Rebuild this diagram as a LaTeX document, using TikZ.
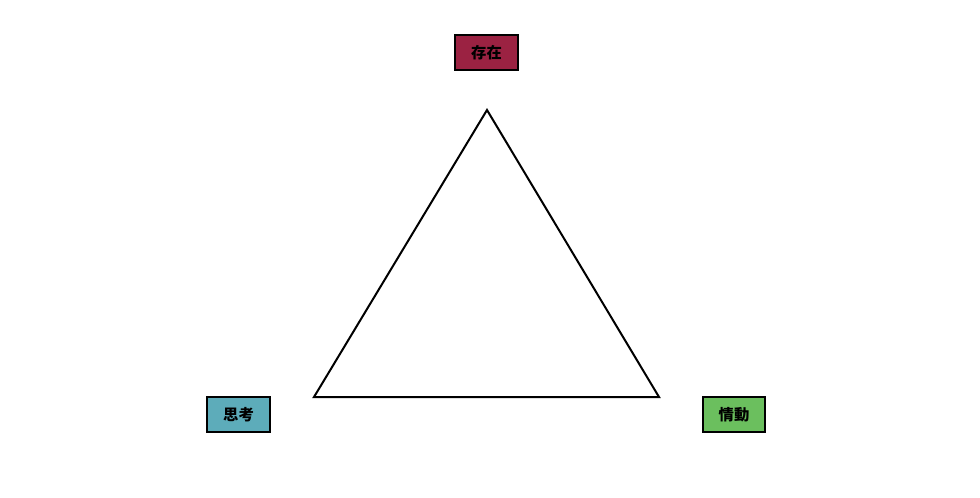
\documentclass[tikz,border=0pt]{standalone}
\usepackage{fontspec}
\usepackage{tikz}
\newfontfamily\cjk{Noto Sans CJK SC}
\definecolor{exist}{RGB}{155,34,66}
\definecolor{think}{RGB}{93,172,186}
\definecolor{feel}{RGB}{107,191,94}
\begin{document}
\begin{tikzpicture}[x=0.75pt,y=-0.75pt]\tikzstyle{every node}+=[inner sep=0pt]
	  \tikzstyle{corner}=[draw=black,line width=1.5pt,minimum width=47pt,minimum height=26pt,font=\cjk\bfseries\fontsize{11.5}{13}\selectfont]
	  \useasboundingbox (0,0) rectangle (980,498);
	  \draw (486.5,52.5) node[corner,fill=exist] (exist) {存在};
	  \draw (238.5,414.5) node[corner,fill=think] (think) {思考};
	  \draw (734,414.5) node[corner,fill=feel] (feel) {情動};
	  \coordinate (top) at (487,110);
	  \coordinate (left) at (314,397);
	  \coordinate (right) at (659,397);
	  \draw [black,line width=1.5pt,line join=miter] (top) -- (right) -- (left) -- cycle;
	\end{tikzpicture}
\end{document}
